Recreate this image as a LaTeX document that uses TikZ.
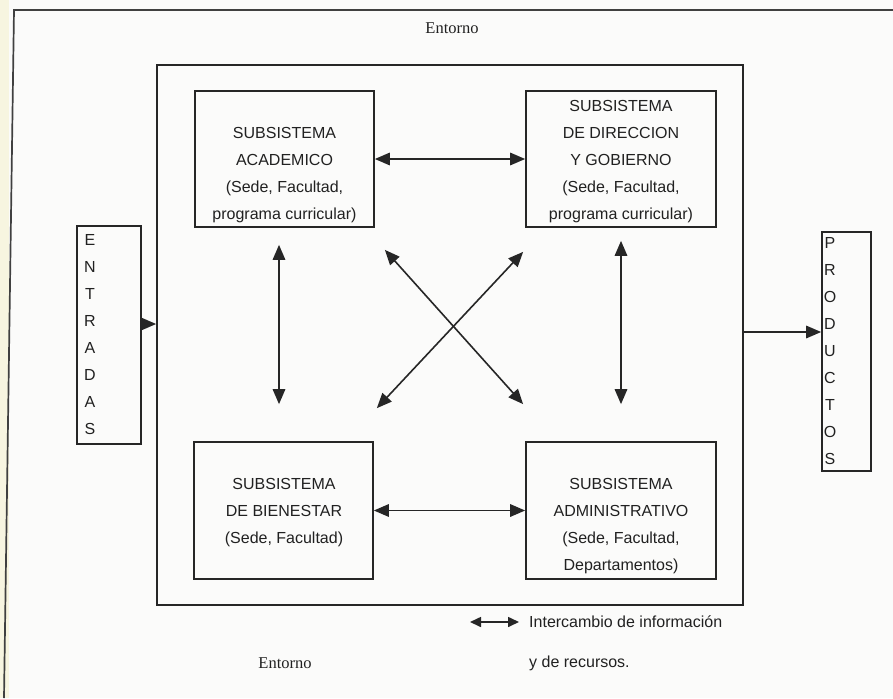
\documentclass[tikz,border=0pt]{standalone}
\usepackage{fontspec}
\setmainfont{Liberation Sans}
\newfontfamily\serifent{Liberation Serif}
\usetikzlibrary{arrows.meta,calc}
\definecolor{paper}{rgb}{0.985,0.985,0.98}
\definecolor{margintint}{rgb}{0.97,0.96,0.88}
\definecolor{inkcol}{rgb}{0.15,0.15,0.15}
\definecolor{textcol}{rgb}{0.13,0.13,0.13}
\begin{document}
\begin{tikzpicture}[x=1pt,y=-1pt,
  ink/.style={draw=inkcol, line width=1.7pt},
  sysbox/.style={ink, rectangle, inner sep=0pt},
  boxtext/.style={align=center, text=textcol, font={\fontsize{16}{27}\selectfont}, inner sep=0pt},
  link/.style={draw=inkcol, line width=1.6pt, {Triangle[length=15pt,width=12.5pt]}-{Triangle[length=15pt,width=12.5pt]}},
  leglink/.style={draw=inkcol, line width=1.6pt, {Triangle[length=11pt,width=10pt]}-{Triangle[length=11pt,width=10pt]}},
  feed/.style={draw=inkcol, line width=1.6pt, -{Triangle[length=15pt,width=12.5pt]}},
  envlabel/.style={font={\serifent\fontsize{16.5}{20}\selectfont}, text=textcol, inner sep=0pt},
  legendtext/.style={anchor=west, text=textcol, font={\fontsize{16}{20}\selectfont}, inner sep=0pt},
]
\useasboundingbox (0,0) rectangle (893,698);
\fill[paper] (0,0) rectangle (893,698);
\fill[margintint] (0,0) rectangle (9,698);
% outer frame of the page
\draw[black!75, line width=1.7pt] (4,698) -- (14,10) -- (893,10);

% environment and boxes
\node[sysbox, minimum width=586pt, minimum height=540pt] (env) at (450,335) {};
\node[sysbox, minimum width=179pt, minimum height=136pt] (acad) at (284.5,159) {};
\node[sysbox, minimum width=190pt, minimum height=136pt] (dir) at (621,159) {};
\node[sysbox, minimum width=179pt, minimum height=137pt] (bien) at (283.5,510.5) {};
\node[sysbox, minimum width=190pt, minimum height=137pt] (adm) at (621,510.5) {};
\node[sysbox, minimum width=64pt, minimum height=218pt] (ent) at (109,335) {};
\node[sysbox, minimum width=49pt, minimum height=239pt] (prod) at (846.5,351.5) {};

% texts
\node[boxtext] (acadtxt) at (284.5,175) {SUBSISTEMA\\ACADEMICO\\(Sede, Facultad,\\programa curricular)};
\node[boxtext] (dirtxt) at (621,161.5) {SUBSISTEMA\\DE DIRECCION\\Y GOBIERNO\\(Sede, Facultad,\\programa curricular)};
\node[boxtext] (bientxt) at (284,513) {SUBSISTEMA\\DE BIENESTAR\\(Sede, Facultad)};
\node[boxtext] (admtxt) at (621,526.5) {SUBSISTEMA\\ADMINISTRATIVO\\(Sede, Facultad,\\Departamentos)};
\node[boxtext] (enttxt) at (90,335) {E\\N\\T\\R\\A\\D\\A\\S};
\node[boxtext] (prodtxt) at (830,351) {P\\R\\O\\D\\U\\C\\T\\O\\S};

\node[envlabel] (envtop) at (452,28) {Entorno};
\node[envlabel] (envbot) at (285,663) {Entorno};

% connectors between subsystems
\draw[link] (acad.east) -- (dir.west);
\draw[link] (bien.east) -- (adm.west);
\draw[link] ([xshift=-5.5pt,yshift=-17pt]acad.south) -- ([xshift=-4.5pt,yshift=37pt]bien.north);
\draw[link] ([yshift=-13pt]dir.south) -- ([yshift=37pt]adm.north);
\draw[link] ([xshift=10pt,yshift=-22pt]acad.south east) -- ([xshift=-2pt,yshift=37pt]adm.north west);
\draw[link] ([xshift=-2pt,yshift=-24pt]dir.south west) -- ([xshift=3pt,yshift=33pt]bien.north east);

% inputs and outputs
\coordinate (entout) at ([yshift=11pt]ent.east);
\draw[feed] (entout) -- (entout -| env.west);
\coordinate (envout) at ([yshift=3pt]env.east);
\draw[feed] (envout) -- (envout -| prod.west);

% legend
\node[legendtext] (legtxt) at (529,622) {Intercambio de información};
\node[legendtext] (legtxt2) at (529,663) {y de recursos.};
\coordinate (legstart) at (470,622);
\draw[leglink] (legstart) -- ([xshift=-10pt]legtxt.west);
\end{tikzpicture}
\end{document}
